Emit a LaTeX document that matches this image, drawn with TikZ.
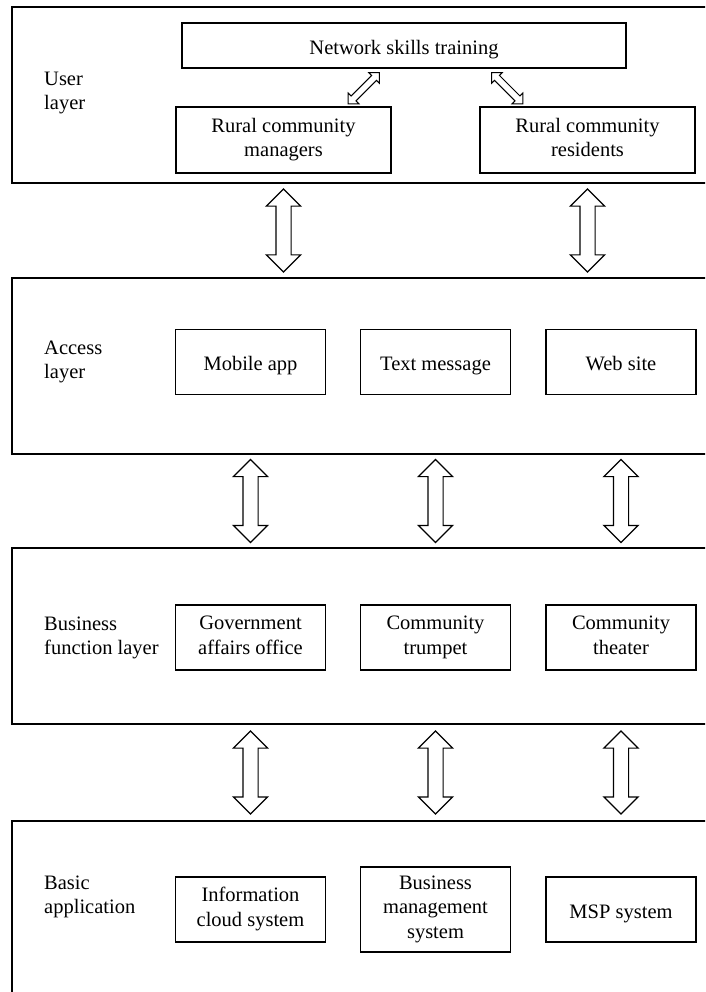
\documentclass[tikz,border=0pt]{standalone}
\usepackage{fontspec}
\setmainfont{Liberation Serif}
\usetikzlibrary{shapes.arrows, positioning, calc}
\newcommand{\boxstrut}{\rule[-5pt]{0pt}{27.8pt}}

\begin{document}
\begin{tikzpicture}[x=1pt, y=-1pt, font=\fontsize{20.5}{24.5}\selectfont,
  layer/.style={draw, line width=1.6pt, minimum width=708pt, minimum height=176pt, inner sep=0pt},
  box/.style={draw, line width=1.6pt, align=center, minimum width=150pt, minimum height=65pt, inner sep=1pt,
    execute at begin node=\boxstrut, execute at end node=\boxstrut},
  lbl/.style={align=left, anchor=west, inner sep=0pt},
  bigarrow/.style={draw, line width=1.2pt, double arrow, double arrow head extend=9.5pt, inner xsep=0pt, inner ysep=7pt, minimum height=83pt, rotate=90},
  smallarrow/.style={draw, line width=1pt, double arrow, double arrow head extend=4pt, inner xsep=0pt, inner ysep=3pt, minimum height=44pt}]
\useasboundingbox (0,0) rectangle (705,992);
\clip (0,0) rectangle (705,992);

% layers
\node[layer] (user) at (366,95) {};
\node[layer] (access) at (366,366) {};
\node[layer] (business) at (366,636) {};
\node[layer, minimum height=182pt] (basic) at (366,912) {};

\node[lbl] (userlbl) at (44,93) {User\\layer};
\node[lbl] (accesslbl) at (44,362) {Access\\layer};
\node[lbl] (businesslbl) at (44,638) {Business\\function layer};
\node[lbl] (basiclbl) at (44,897) {Basic\\application};

% user layer
\node[box, minimum width=444pt, minimum height=45pt] (nst) at (404,45.5) {Network skills training};
\node[box, minimum width=215pt, minimum height=66pt] (managers) at (283.5,140) {Rural community\\managers};
\node[box, minimum width=215pt, minimum height=66pt] (residents) at (587.5,140) {Rural community\\residents};
\node[smallarrow, rotate=45] (sa1) at ($(managers.north east)+(-28,-18)$) {};
\node[smallarrow, rotate=-45] (sa2) at ($(residents.north west)+(28,-18)$) {};

% access layer
\node[box] (mobile) at (250.5,362) {Mobile app};
\node[box] (textmsg) at (435.5,362) {Text message};
\node[box] (web) at (621,362) {Web site};

% business function layer
\node[box] (gov) at (250.5,637.5) {Government\\affairs office};
\node[box] (trumpet) at (435.5,637.5) {Community\\trumpet};
\node[box] (theater) at (621,637.5) {Community\\theater};

% basic application
\node[box] (cloud) at (250.5,909.5) {Information\\cloud system};
\node[box, minimum height=85pt] (bms) at (435.5,909.5) {Business\\management\\system};
\node[box] (msp) at (621,909.5) {MSP system};

% arrows between layers
\foreach \col in {managers, residents}
  \node[bigarrow] (a-\col) at ($(\col |- user.south)!.5!(\col |- access.north)$) {};
\foreach \col in {mobile, textmsg, web}
  \node[bigarrow] (a-\col) at ($(\col |- access.south)!.5!(\col |- business.north)$) {};
\foreach \col in {gov, trumpet, theater}
  \node[bigarrow] (a-\col) at ($(\col |- business.south)!.5!(\col |- basic.north)$) {};
\end{tikzpicture}
\end{document}
